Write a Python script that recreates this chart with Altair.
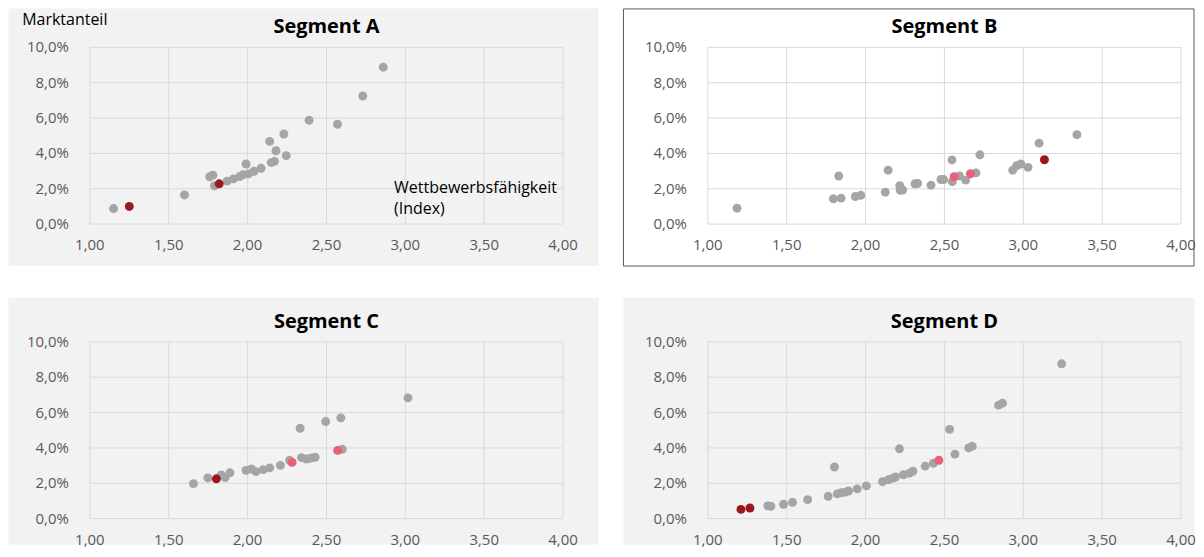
import altair as alt
import pandas as pd

# ---------------- data ----------------
X_TICKS = [1.0, 1.5, 2.0, 2.5, 3.0, 3.5, 4.0]
X_LABELS = ["1,00", "1,50", "2,00", "2,50", "3,00", "3,50", "4,00"]
Y_TICKS = [0, 2, 4, 6, 8, 10]
Y_LABELS = ["0,0%", "2,0%", "4,0%", "6,0%", "8,0%", "10,0%"]

# Segment A
a_gray_x = [1.15, 1.60, 1.76, 1.78, 1.79, 1.87, 1.91, 1.95, 1.97, 1.99, 2.005, 2.04,
            2.085, 2.14, 2.15, 2.17, 2.18, 2.23, 2.245, 2.39, 2.57, 2.73, 2.86]
a_gray_y = [0.88, 1.65, 2.68, 2.77, 2.17, 2.43, 2.56, 2.69, 2.79, 3.40, 2.84, 2.99,
            3.16, 4.68, 3.48, 3.55, 4.15, 5.10, 3.87, 5.88, 5.65, 7.25, 8.88]
a_pink_x = []
a_pink_y = []
a_red_x = [1.25, 1.82]
a_red_y = [1.00, 2.28]

# Segment B
b_gray_x = [1.185, 1.796, 1.845, 1.83, 1.935, 1.97, 2.125, 2.143, 2.217, 2.22, 2.235, 2.313,
            2.33, 2.415, 2.478, 2.495, 2.55, 2.548, 2.595, 2.635, 2.70, 2.725, 2.933, 2.957,
            2.985, 3.03, 3.10, 3.34]
b_gray_y = [0.90, 1.43, 1.47, 2.72, 1.56, 1.63, 1.81, 3.05, 2.17, 1.92, 1.93, 2.28,
            2.30, 2.20, 2.52, 2.52, 2.40, 3.63, 2.72, 2.49, 2.90, 3.92, 3.05, 3.30,
            3.40, 3.21, 4.58, 5.06]
b_pink_x = [2.562, 2.665]
b_pink_y = [2.68, 2.85]
b_red_x = [3.134]
b_red_y = [3.64]

# Segment C
c_gray_x = [1.657, 1.748, 1.833, 1.858, 1.888, 1.99, 2.025, 2.053, 2.098, 2.14, 2.208,
            2.266, 2.333, 2.342, 2.373, 2.40, 2.428, 2.495, 2.591, 2.60, 3.017]
c_gray_y = [1.98, 2.30, 2.47, 2.32, 2.59, 2.73, 2.81, 2.66, 2.77, 2.87, 3.01,
            3.30, 5.11, 3.45, 3.37, 3.42, 3.47, 5.49, 5.70, 3.92, 6.83]
c_pink_x = [2.282, 2.571]
c_pink_y = [3.18, 3.86]
c_red_x = [1.802]
c_red_y = [2.25]

# Segment D
d_gray_x = [1.38, 1.40, 1.48, 1.537, 1.633, 1.763, 1.803, 1.821, 1.847, 1.872, 1.892,
            1.947, 2.005, 2.108, 2.145, 2.172, 2.19, 2.215, 2.24, 2.278, 2.30, 2.378,
            2.43, 2.533, 2.567, 2.654, 2.676, 2.843, 2.868, 3.243]
d_gray_y = [0.72, 0.70, 0.81, 0.92, 1.07, 1.26, 2.92, 1.40, 1.46, 1.50, 1.56,
            1.68, 1.85, 2.09, 2.20, 2.29, 2.35, 3.95, 2.48, 2.57, 2.68, 2.97,
            3.13, 5.05, 3.65, 4.00, 4.09, 6.42, 6.53, 8.76]
d_pink_x = [2.465]
d_pink_y = [3.30]
d_red_x = [1.21, 1.267]
d_red_y = [0.52, 0.60]

# ---------------- style ----------------
FONT = "Open Sans"
GRAY = "#a5a5a5"
PINK = "#e8607a"
RED = "#9b191e"
GRID = "#d9d9d9"
PANEL = "#f2f2f2"
LABEL = "#595959"
W, H = 474, 177

ONE = pd.DataFrame({"k": [0]})
xs = alt.Scale(domain=[1, 4], nice=False, zero=False)
ys = alt.Scale(domain=[0, 10], nice=False)


def note(text, x, y, size=16, weight="normal", align="left", color="black"):
    return alt.Chart(ONE).mark_text(
        font=FONT, fontSize=size, fontWeight=weight, align=align,
        baseline="middle", color=color
    ).encode(x=alt.value(x), y=alt.value(y), text=alt.value(text))


def panel(gx, gy, px, py, rx, ry, title, box, fill, stroke=None, extra=()):
    df = pd.DataFrame({
        "x": list(gx) + list(px) + list(rx),
        "y": list(gy) + list(py) + list(ry),
        "c": ["g"] * len(gx) + ["p"] * len(px) + ["r"] * len(rx),
    })
    x0, x1, y0, y1 = box
    rect_kw = dict(fill=fill)
    if stroke:
        rect_kw.update(stroke=stroke, strokeWidth=1)
    bg = alt.Chart(ONE).mark_rect(**rect_kw).encode(
        x=alt.value(x0), x2=alt.value(x1), y=alt.value(y0), y2=alt.value(y1))

    xt = pd.DataFrame({"v": X_TICKS, "t": X_LABELS})
    yt = pd.DataFrame({"v": Y_TICKS, "t": Y_LABELS})

    vgrid = alt.Chart(xt).mark_rule(color=GRID, strokeWidth=1).encode(
        x=alt.X("v:Q", scale=xs, axis=None))
    hgrid = alt.Chart(yt).mark_rule(color=GRID, strokeWidth=1).encode(
        y=alt.Y("v:Q", scale=ys, axis=None))

    xlab = alt.Chart(xt).mark_text(font=FONT, fontSize=15, color=LABEL,
                                   align="center", baseline="middle").encode(
        x=alt.X("v:Q", scale=xs, axis=None), y=alt.value(H + 21), text="t:N")
    ylab = alt.Chart(yt).mark_text(font=FONT, fontSize=15, color=LABEL,
                                   align="right", baseline="middle").encode(
        y=alt.Y("v:Q", scale=ys, axis=None), x=alt.value(-21), text="t:N")

    pts = alt.Chart(df).mark_circle(size=80, opacity=1).encode(
        x=alt.X("x:Q", scale=xs, axis=None),
        y=alt.Y("y:Q", scale=ys, axis=None),
        color=alt.Color("c:N", scale=alt.Scale(domain=["g", "p", "r"],
                                               range=[GRAY, PINK, RED]), legend=None),
    )
    ttl = note(title, W / 2, -20, size=20, weight="bold", align="center")
    return alt.layer(bg, vgrid, hgrid, xlab, ylab, ttl, *extra, pts).properties(
        width=W, height=H)


pa = panel(a_gray_x, a_gray_y, a_pink_x, a_pink_y, a_red_x, a_red_y, "Segment A",
           (-81.5, 509.5, -39, 219), PANEL,
           extra=(note("Marktanteil", -67.8, -27),
                  note("Wettbewerbsfähigkeit", 304.7, 141),
                  note("(Index)", 304.7, 162)))
pb = panel(b_gray_x, b_gray_y, b_pink_x, b_pink_y, b_red_x, b_red_y, "Segment B",
           (-84.5, 487, -38.5, 219), "white", stroke="#595959")
pc = panel(c_gray_x, c_gray_y, c_pink_x, c_pink_y, c_red_x, c_red_y, "Segment C",
           (-81.5, 509.5, -44, 203), PANEL)
pd_ = panel(d_gray_x, d_gray_y, d_pink_x, d_pink_y, d_red_x, d_red_y, "Segment D",
            (-84.5, 487.5, -44, 203), PANEL)

chart = alt.concat(pa, pb, pc, pd_, columns=2,
                   spacing={"row": 118, "column": 145},
                   bounds="flush").properties(
    padding=0, background="white"
).configure_view(strokeWidth=0)

chart.save("out.html", embed_options={"renderer": "svg", "actions": False})
